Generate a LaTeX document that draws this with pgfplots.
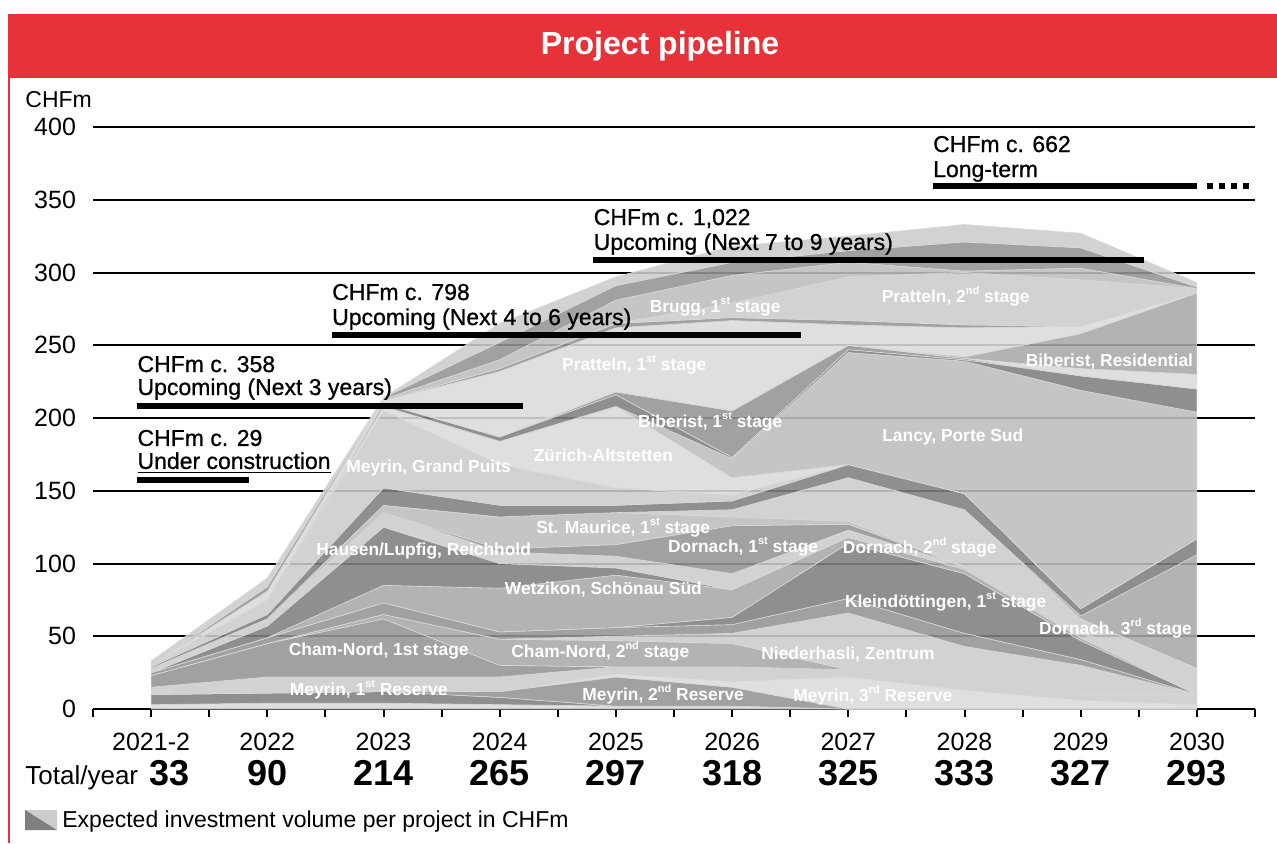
\documentclass[border=0pt]{standalone}
\usepackage{fontspec}
\setmainfont{Liberation Sans}
\newfontfamily\medfont{Liberation Sans}[FakeBold=0.8]
\usepackage{pgfplots}
\usepackage{pgfplotstable}
\pgfplotsset{compat=1.18}
\definecolor{brandred}{RGB}{231,50,57}
\definecolor{g1}{gray}{0.86}
\definecolor{g2}{gray}{0.80}
\definecolor{g3}{gray}{0.74}
\definecolor{g4}{gray}{0.66}
\definecolor{g5}{gray}{0.58}
\definecolor{g6}{gray}{0.50}
\newcommand{\ord}[1]{\raisebox{0.45em}{\fontsize{5.5}{6}\selectfont #1}}
\tikzset{
  lab/.style={text=white, font=\bfseries\fontsize{8.7}{10}\selectfont, inner sep=0pt},
  big/.style={font=\medfont\fontsize{11.5}{13}\selectfont, anchor=base west, inner sep=0pt},
  tot/.style={anchor=base, font=\bfseries\fontsize{18}{20}\selectfont, inner sep=0pt, yshift=-38pt},
}
\pgfplotsset{lay/.style={fill=#1, draw=white!85!black, line width=0.3pt, fill opacity=0.88}}

% one row per year (0 = 2021-2 ... 9 = 2030), one column per project layer (bottom to top), CHFm
\pgfplotstableread{
x a1 a2 a3 a4 a5 a6 a7 a8 a9 a10 a11 a12 a13 a14 a15 a16 a17 a18 a19 a20 a21 a22 a23 a24 a25 a26 a27 a28 a29 a30 a31
0 3 7 0 0 5 8 0 0 2 0 0 0 3 0 0 0 0 1 1 0 0 0 0 0 0 0 0 0 0 0 3
1 4 7 0 0 11 23 0 0 4 0 0 8 5 0 0 0 0 3 10 0 0 0 0 0 0 6 0 0 0 3 6
2 4 8 0 0 10 40 3 0 8 0 12 40 10 0 5 0 0 12 53 3 0 2 0 0 0 2 0 0 1 1 0
3 3 5 4 0 10 8 18 0 5 0 30 17 8 2 22 0 0 8 28 16 0 3 0 0 0 45 2 0 6 12 13
4 2 0 20 2 5 0 18 3 6 0 36 5 8 8 22 0 0 5 12 56 0 8 2 0 0 44 3 0 16 10 6
5 2 0 13 4 10 0 16 7 6 5 19 0 11 33 6 5 0 6 4 12 13 1 32 0 0 62 2 10 19 9 11
6 0 0 0 22 5 0 0 39 10 38 4 0 5 4 2 30 0 9 0 0 77 2 3 0 0 14 3 30 10 8 10
7 0 0 0 13 6 0 0 24 9 41 3 0 2 0 0 39 0 11 0 0 91 1 1 0 1 20 2 36 1 20 12
8 0 0 0 6 4 0 0 20 4 13 2 0 3 0 0 10 2 5 0 0 150 10 0 5 24 5 0 32 8 14 10
9 0 0 0 3 7 0 0 0 0 0 0 0 18 0 0 0 78 11 0 0 87 16 0 10 56 0 0 3 0 1 3
}\pipeline

\begin{document}
\begin{tikzpicture}
\useasboundingbox (0,0) rectangle (638.5pt,421.5pt);
% frame and title
\fill[brandred] (4pt,382.5pt) rectangle (638.5pt,414.5pt);
\draw[brandred, line width=1pt] (4.5pt,383pt) -- (4.5pt,0pt);
\node[text=white, font=\bfseries\fontsize{16}{19}\selectfont] at (330pt,398.5pt) {Project pipeline};
\node[anchor=west, font=\fontsize{11.5}{13}\selectfont, inner sep=0pt] at (12.5pt,371.5pt) {CHFm};

\begin{axis}[
  at={(46.5pt,67pt)}, anchor=south west,
  scale only axis, width=581pt, height=291pt,
  xmin=-0.5, xmax=9.5, ymin=0, ymax=400,
  stack plots=y, reverse stacked plots=false,
  clip=false,
  axis x line*=bottom, axis y line*=left,
  y axis line style={draw=none},
  x axis line style={line width=1.2pt, black},
  xtick={0,...,9},
  xticklabels={2021-2,2022,2023,2024,2025,2026,2027,2028,2029,2030},
  minor xtick={-0.5,0.5,1.5,2.5,3.5,4.5,5.5,6.5,7.5,8.5,9.5},
  tick align=outside,
  major tick length=4pt, minor tick length=4pt,
  xtick style={line width=1pt, black},
  minor tick style={line width=1pt, black},
  ytick={0,50,...,400},
  yticklabels={0,50,100,150,200,250,300,350,400},
  ytick style={draw=none},
  ymajorgrids,
  major grid style={black, line width=1pt},
  tick label style={font=\fontsize{12.5}{14}\selectfont},
  xticklabel style={anchor=base, yshift=-16.5pt},
  yticklabel style={anchor=east, xshift=-1pt},
]
\addplot[lay=g1] table[x=x,y=a1] {\pipeline} \closedcycle;
\addplot[lay=g6] table[x=x,y=a2] {\pipeline} \closedcycle;
\addplot[lay=g5] table[x=x,y=a3] {\pipeline} \closedcycle;
\addplot[lay=g1] table[x=x,y=a4] {\pipeline} \closedcycle;
\addplot[lay=g2] table[x=x,y=a5] {\pipeline} \closedcycle;
\addplot[lay=g5] table[x=x,y=a6] {\pipeline} \closedcycle;
\addplot[lay=g4] table[x=x,y=a7] {\pipeline} \closedcycle;
\addplot[lay=g2] table[x=x,y=a8] {\pipeline} \closedcycle;
\addplot[lay=g5] table[x=x,y=a9] {\pipeline} \closedcycle;
\addplot[lay=g6] table[x=x,y=a10] {\pipeline} \closedcycle;
\addplot[lay=g4] table[x=x,y=a11] {\pipeline} \closedcycle;
\addplot[lay=g6] table[x=x,y=a12] {\pipeline} \closedcycle;
\addplot[lay=g2] table[x=x,y=a13] {\pipeline} \closedcycle;
\addplot[lay=g5] table[x=x,y=a14] {\pipeline} \closedcycle;
\addplot[lay=g3] table[x=x,y=a15] {\pipeline} \closedcycle;
\addplot[lay=g2] table[x=x,y=a16] {\pipeline} \closedcycle;
\addplot[lay=g4] table[x=x,y=a17] {\pipeline} \closedcycle;
\addplot[lay=g6] table[x=x,y=a18] {\pipeline} \closedcycle;
\addplot[lay=g2] table[x=x,y=a19] {\pipeline} \closedcycle;
\addplot[lay=g1] table[x=x,y=a20] {\pipeline} \closedcycle;
\addplot[lay=g3] table[x=x,y=a21] {\pipeline} \closedcycle;
\addplot[lay=g6] table[x=x,y=a22] {\pipeline} \closedcycle;
\addplot[lay=g5] table[x=x,y=a23] {\pipeline} \closedcycle;
\addplot[lay=g1] table[x=x,y=a24] {\pipeline} \closedcycle;
\addplot[lay=g4] table[x=x,y=a25] {\pipeline} \closedcycle;
\addplot[lay=g1] table[x=x,y=a26] {\pipeline} \closedcycle;
\addplot[lay=g5] table[x=x,y=a27] {\pipeline} \closedcycle;
\addplot[lay=g2] table[x=x,y=a28] {\pipeline} \closedcycle;
\addplot[lay=g3] table[x=x,y=a29] {\pipeline} \closedcycle;
\addplot[lay=g5] table[x=x,y=a30] {\pipeline} \closedcycle;
\addplot[lay=g2] table[x=x,y=a31] {\pipeline} \closedcycle;

% project labels
\node[lab] at (axis cs:1.873,13.1) {Meyrin, 1\ord{st} Reserve};
\node[lab] at (axis cs:4.407,10.3) {Meyrin, 2\ord{nd} Reserve};
\node[lab] at (axis cs:6.211,9.6) {Meyrin, 3\ord{rd} Reserve};
\node[lab] at (axis cs:1.959,39.9) {Cham-Nord, 1st stage};
\node[lab] at (axis cs:3.866,39.9) {Cham-Nord, 2\ord{nd} stage};
\node[lab] at (axis cs:5.997,37.1) {Niederhasli, Zentrum};
\node[lab] at (axis cs:3.892,81.8) {Wetzikon, Schönau Süd};
\node[lab] at (axis cs:6.838,73.5) {Kleindöttingen, 1\ord{st} stage};
\node[lab] at (axis cs:8.299,55.7) {Dornach. 3\ord{rd} stage};
\node[lab] at (axis cs:2.345,108.6) {Hausen/Lupfig, Reichhold};
\node[lab] at (axis cs:4.063,124.4) {St. Maurice, 1\ord{st} stage};
\node[lab] at (axis cs:5.095,111.3) {Dornach, 1\ord{st} stage};
\node[lab] at (axis cs:6.615,111.3) {Dornach, 2\ord{nd} stage};
\node[lab] at (axis cs:2.388,165.6) {Meyrin, Grand Puits};
\node[lab] at (axis cs:3.892,174.6) {Zürich-Altstetten};
\node[lab] at (axis cs:6.899,187) {Lancy, Porte Sud};
\node[lab] at (axis cs:4.811,197.3) {Biberist, 1\ord{st} stage};
\node[lab] at (axis cs:4.158,236.4) {Pratteln, 1\ord{st} stage};
\node[lab] at (axis cs:8.247,238.5) {Biberist, Residential};
\node[lab] at (axis cs:4.854,276.3) {Brugg, 1\ord{st} stage};
\node[lab] at (axis cs:6.924,283.8) {Pratteln, 2\ord{nd} stage};

% pipeline phase annotations
\node[big] at (axis cs:-0.12,180.8) {CHFm c. 29};
\node[big] at (axis cs:-0.12,165.0) {\underline{Under construction}};
\draw[line width=2.75pt] (axis cs:-0.12,157.4) -- (axis cs:0.84,157.4);
\node[big] at (axis cs:-0.12,231.6) {CHFm c. 358};
\node[big] at (axis cs:-0.12,215.8) {Upcoming (Next 3 years)};
\draw[line width=2.75pt] (axis cs:-0.12,208.2) -- (axis cs:3.204,208.2);
\node[big] at (axis cs:1.555,281.1) {CHFm c. 798};
\node[big] at (axis cs:1.555,263.9) {Upcoming (Next 4 to 6 years)};
\draw[line width=2.75pt] (axis cs:1.555,257) -- (axis cs:5.593,257);
\node[big] at (axis cs:3.806,332.6) {CHFm c. 1,022};
\node[big] at (axis cs:3.806,315.5) {Upcoming (Next 7 to 9 years)};
\draw[line width=2.75pt] (axis cs:3.806,308.6) -- (axis cs:8.548,308.6);
\node[big] at (axis cs:6.727,382.8) {CHFm c. 662};
\node[big] at (axis cs:6.727,365.6) {Long-term};
\draw[line width=2.75pt] (axis cs:6.727,359.5) -- (axis cs:9.003,359.5);
\draw[line width=2.75pt, dash pattern=on 3pt off 3pt] (axis cs:9.09,359.5) -- (axis cs:9.48,359.5);

% totals per year
\node[tot] at (axis cs:0.155,0) {33};
\node[tot] at (axis cs:1,0) {90};
\node[tot] at (axis cs:2,0) {214};
\node[tot] at (axis cs:3,0) {265};
\node[tot] at (axis cs:4,0) {297};
\node[tot] at (axis cs:5,0) {318};
\node[tot] at (axis cs:6,0) {325};
\node[tot] at (axis cs:7,0) {333};
\node[tot] at (axis cs:8,0) {327};
\node[tot] at (axis cs:9,0) {293};
\end{axis}

\node[anchor=base west, font=\fontsize{13}{15}\selectfont, inner sep=0pt] at (12.5pt,29.5pt) {Total/year};
% legend
\fill[g2] (12.5pt,16.5pt) -- (28.5pt,16.5pt) -- (28.5pt,6.5pt) -- cycle;
\fill[g6] (12.5pt,16.5pt) -- (12.5pt,6.5pt) -- (28.5pt,6.5pt) -- cycle;
\node[anchor=west, font=\fontsize{11.5}{13}\selectfont, inner sep=0pt] at (31pt,10.5pt) {Expected investment volume per project in CHFm};
\end{tikzpicture}
\end{document}
